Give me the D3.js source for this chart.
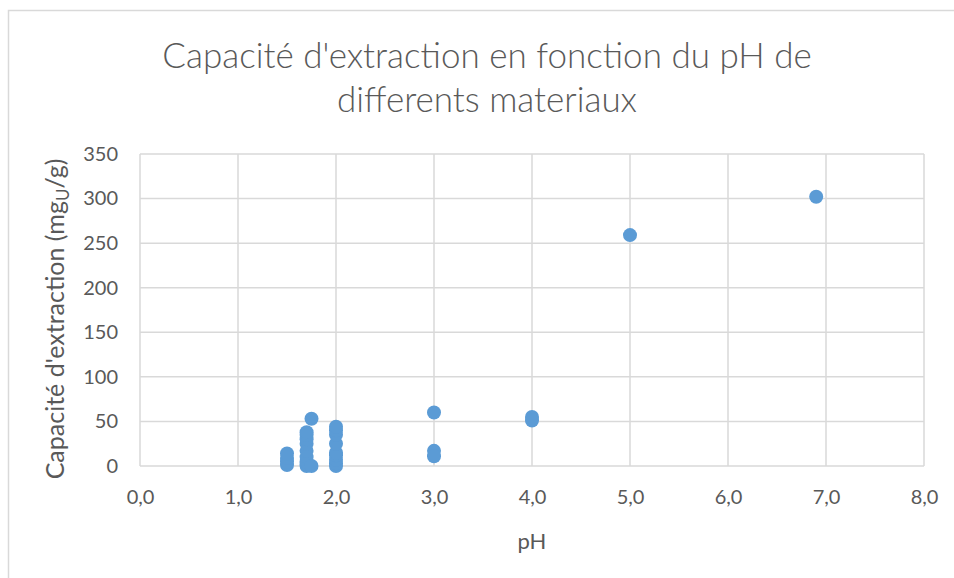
<!DOCTYPE html>
<html><head><meta charset="utf-8">
<script src="https://cdn.jsdelivr.net/npm/d3@7"></script>
<style>body{margin:0;background:#fff}svg{display:block}</style>
</head><body>
<script>
// Data (pH, capacity mg_U/g)
const phValues  = [1.5,1.5,1.5,1.5, 1.7,1.7,1.7,1.7,1.7,1.7,1.7,1.7,1.7, 1.75,1.75, 2,2,2,2,2,2,2,2,2, 3,3,3, 4,4, 5, 6.9];
const capValues = [1,5,9,14, 0,2,5,10,17,25,30,35,38, 53,0, 0,3,7,12,15,25,35,40,44, 60,17,11, 55,51, 259, 302];
const xTicks = [0,1,2,3,4,5,6,7,8];
const yTicks = [0,50,100,150,200,250,300,350];
const titleLines = ["Capacité d'extraction en fonction du pH de", "differents materiaux"];

const W = 954, H = 578;
const font = "Lato, 'Open Sans', sans-serif";
const grey = "#595959";
const svg = d3.select("body").append("svg").attr("width", W).attr("height", H);

svg.append("rect").attr("x", 8.5).attr("y", 10.5).attr("width", W + 20).attr("height", H + 20)
  .attr("fill", "#fff").attr("stroke", "#d9d9d9").attr("stroke-width", 1.5);

const x = d3.scaleLinear().domain([0, 8]).range([140, 924]);
const y = d3.scaleLinear().domain([0, 350]).range([466, 154]);

// gridlines
svg.append("g").selectAll("line.v").data(xTicks).join("line")
  .attr("x1", d => x(d)).attr("x2", d => x(d)).attr("y1", y(350)).attr("y2", y(0))
  .attr("stroke", "#d9d9d9").attr("stroke-width", 1.5);
svg.append("g").selectAll("line.h").data(yTicks).join("line")
  .attr("x1", x(0)).attr("x2", x(8)).attr("y1", d => y(d)).attr("y2", d => y(d))
  .attr("stroke", "#d9d9d9").attr("stroke-width", 1.5);

// axes via d3 axes
const fmt = d3.format(".1f");
const xAxis = svg.append("g").attr("transform", `translate(0,${y(0)})`)
  .call(d3.axisBottom(x).tickValues(xTicks).tickSize(0).tickPadding(24).tickFormat(d => fmt(d).replace(".", ",")));
const yAxis = svg.append("g").attr("transform", `translate(${x(0)},0)`)
  .call(d3.axisLeft(y).tickValues(yTicks).tickSize(0).tickPadding(22));
[xAxis, yAxis].forEach(a => {
  a.select(".domain").remove();
  a.selectAll("text").attr("fill", grey).attr("font-family", font).attr("font-size", 20);
});

// points
svg.append("g").selectAll("circle").data(phValues.map((p, i) => [p, capValues[i]])).join("circle")
  .attr("cx", d => x(d[0])).attr("cy", d => y(d[1])).attr("r", 7)
  .attr("fill", "#5b9bd5");

// title
svg.append("text").attr("x", 487).attr("y", 68).attr("text-anchor", "middle")
  .attr("font-family", font).attr("font-size", 35).attr("font-weight", 300).attr("fill", grey)
  .selectAll("tspan").data(titleLines).join("tspan")
  .attr("x", 487).attr("dy", (d, i) => i ? 44 : 0).text(d => d);

// axis titles
svg.append("text").attr("x", x(4)).attr("y", 549).attr("text-anchor", "middle")
  .attr("font-family", font).attr("font-size", 22).attr("fill", grey).text("pH");

const yt = svg.append("text").attr("transform", `translate(64,319) rotate(-90)`).attr("text-anchor", "middle")
  .attr("font-family", font).attr("font-size", 25).attr("fill", grey);
yt.append("tspan").text("Capacité d'extraction (mg");
yt.append("tspan").attr("font-size", 17).attr("dy", 5).text("U");
yt.append("tspan").attr("dy", -5).text("/g)");
</script>
</body></html>
